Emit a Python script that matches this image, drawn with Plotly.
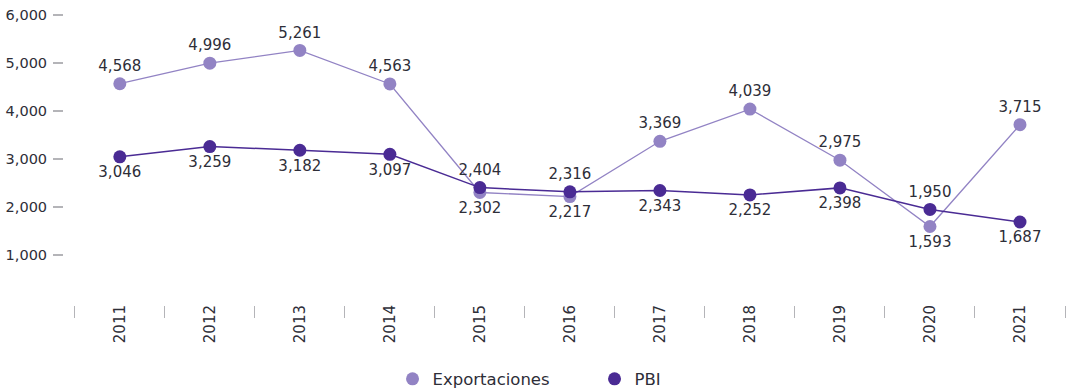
import plotly.graph_objects as go

years = ["2011", "2012", "2013", "2014", "2015", "2016", "2017", "2018", "2019", "2020", "2021"]
exportaciones = [4568, 4996, 5261, 4563, 2302, 2217, 3369, 4039, 2975, 1593, 3715]
pbi = [3046, 3259, 3182, 3097, 2404, 2316, 2343, 2252, 2398, 1950, 1687]

# label placement: exports above except where the two series cross
exp_pos = ["top center"] * 4 + ["bottom center"] * 2 + ["top center"] * 3 + ["bottom center", "top center"]
pbi_pos = ["bottom center"] * 4 + ["top center"] * 2 + ["bottom center"] * 3 + ["top center", "bottom center"]

LIGHT = "#9283c4"
DARK = "#4a2b94"
TEXT = "#2e2e38"
FONT = "DejaVu Sans"

fig = go.Figure()
for name, values, color, width, pos in [
    ("Exportaciones", exportaciones, LIGHT, 1.3, exp_pos),
    ("PBI", pbi, DARK, 1.5, pbi_pos),
]:
    fig.add_trace(go.Scatter(
        x=years, y=values, name=name, showlegend=False,
        mode="lines+markers+text",
        line=dict(color=color, width=width),
        marker=dict(color=color, size=13),
        text=[f"{v:,}" for v in values],
        textposition=pos,
        textfont=dict(family=FONT, size=15, color=TEXT),
        cliponaxis=False,
    ))

# legend entries drawn as plain dots
for name, color in [("Exportaciones", LIGHT), ("PBI", DARK)]:
    fig.add_trace(go.Scatter(
        x=[None], y=[None], name=name, mode="markers",
        marker=dict(color=color, size=13),
    ))

fig.update_layout(
    width=1068, height=388,
    margin=dict(l=64, r=3, t=10, b=83),
    paper_bgcolor="white", plot_bgcolor="white",
    font=dict(family=FONT, size=14, color=TEXT),
    showlegend=True,
    legend=dict(
        orientation="h", x=0.53, xanchor="center",
        yref="container", y=0.023, yanchor="middle",
        font=dict(family=FONT, size=16.5, color=TEXT),
        itemwidth=30, entrywidth=157,
    ),
    xaxis=dict(
        type="category", range=[-0.62, 10.5], automargin=False,
        tickson="boundaries", ticks="outside", ticklen=12, tickwidth=1,
        tickcolor="#b4b4b8", tickangle=-90,
        showline=False, showgrid=False, zeroline=False,
        tickfont=dict(family=FONT, size=15, color=TEXT),
        ticklabelstandoff=-4,
    ),
    yaxis=dict(
        range=[-42, 6104], tickvals=[1000, 2000, 3000, 4000, 5000, 6000],
        tickformat=",", ticks="outside", ticklen=10, tickwidth=1.5,
        tickcolor="#b4b4b8", ticklabelstandoff=3, automargin=False,
        showline=False, showgrid=False, zeroline=False,
        tickfont=dict(family=FONT, size=14.5, color=TEXT),
    ),
)

fig.write_html("out.html")
